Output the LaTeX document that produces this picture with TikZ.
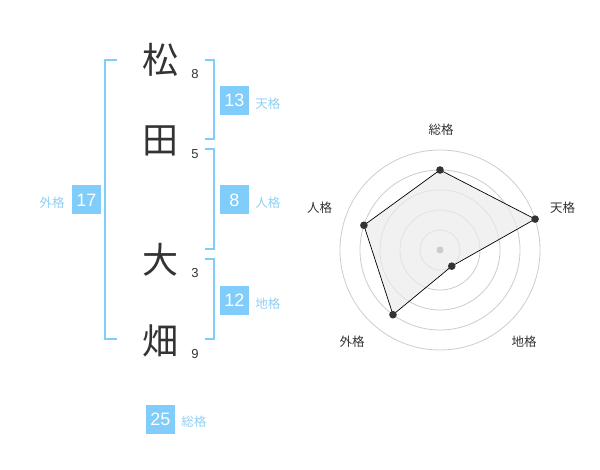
\documentclass[tikz,border=0pt]{standalone}
\usepackage{fontspec}
\setmainfont{Noto Sans CJK JP}
\newfontfamily\suji{Liberation Sans}
\definecolor{kaku}{HTML}{80CCFA}
\definecolor{kakutxt}{HTML}{8ED0F5}
\definecolor{moji}{HTML}{333333}
\definecolor{wa}{HTML}{CCCCCC}
\usetikzlibrary{positioning}

\begin{document}
\begin{tikzpicture}[x=1pt,y=-1pt,
		kanji/.style={text=moji, inner sep=0pt, font=\fontsize{36}{36}\selectfont},
		kakusu/.style={text=moji, inner sep=0pt, font=\suji\fontsize{13}{13}\selectfont},
		kazu/.style={fill=kaku, text=white, minimum size=29pt, inner sep=0pt, font=\suji\fontsize{18}{18}\selectfont},
		mei/.style={text=kakutxt, inner sep=0pt, font=\fontsize{12.5}{12.5}\selectfont},
		rmei/.style={text=moji, inner sep=0pt, font=\fontsize{12.5}{12.5}\selectfont},
		waku/.style={draw=kaku, line width=2pt}]
				\useasboundingbox (0,0) rectangle (600,470);
				% moji
				\node[kanji] (matsu) at (160,60) {松};
				\node[kanji] (ta) at (160,141) {田};
				\node[kanji] (oo) at (160,260) {大};
				\node[kanji] (hata) at (160,341) {畑};
				\node[kakusu] (k1) at (195,74) {8};
				\node[kakusu] (k2) at (195,154) {5};
				\node[kakusu] (k3) at (195,273) {3};
				\node[kakusu] (k4) at (195,354) {9};
				% kakko
				\draw[waku] (117,60) -- (105,60) -- (105,339) -- (117,339);
				\draw[waku] (205,60) -- (214,60) -- (214,139) -- (205,139);
				\draw[waku] (205,149) -- (214,149) -- (214,249) -- (205,249);
				\draw[waku] (205,259) -- (214,259) -- (214,339) -- (205,339);
				% kakusu no hako
				\node[kazu] (ten) at (234.5,100.5) {13};
				\node[mei, right=6pt of ten, yshift=-3pt] (tenmei) {天格};
				\node[kazu] (jin) at (234.5,200) {8};
				\node[mei, right=6pt of jin, yshift=-3pt] (jinmei) {人格};
				\node[kazu] (chi) at (234.5,300.5) {12};
				\node[mei, right=6pt of chi, yshift=-3pt] (chimei) {地格};
				\node[kazu] (gai) at (86.5,200) {17};
				\node[mei, left=7pt of gai, yshift=-3pt] (gaimei) {外格};
				\node[kazu] (sou) at (160.5,419) {25};
				\node[mei, right=6pt of sou, yshift=-3pt] (soumei) {総格};
				% radar
				\begin{scope}[shift={(440,250)}, x=1pt, y=1pt]
					\foreach \r in {20,40,60,80,100}
						\draw[wa, line width=0.8pt] (0,0) circle (\r pt);
					\coordinate (psou) at (90:80);
					\coordinate (pten) at (18:100);
					\coordinate (pchi) at (-54:20);
					\coordinate (pgai) at (234:80);
					\coordinate (pjin) at (162:80);
					\fill[black!8, opacity=0.7] (psou) -- (pten) -- (pchi) -- (pgai) -- (pjin) -- cycle;
					\draw[black, line width=0.7pt] (psou) -- (pten) -- (pchi) -- (pgai) -- (pjin) -- cycle;
					\fill[wa] (0,0) circle (3.5pt);
					\foreach \p in {psou,pten,pchi,pgai,pjin}
						\fill[moji] (\p) circle (3.8pt);
					\node[rmei] (lsou) at (1,120) {総格};
					\node[rmei] (lten) at (122.5,42) {天格};
					\node[rmei] (ljin) at (-120.5,42) {人格};
					\node[rmei] (lgai) at (-88,-92) {外格};
					\node[rmei] (lchi) at (84,-92) {地格};
				\end{scope}
\end{tikzpicture}
\end{document}
